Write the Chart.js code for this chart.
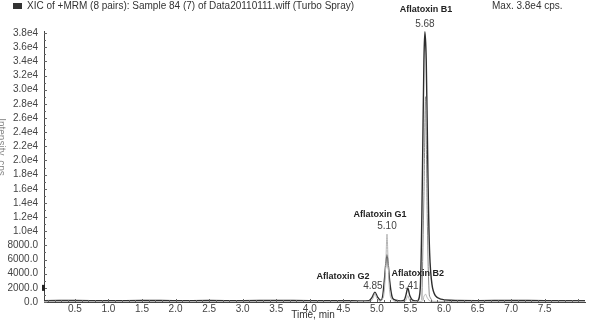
<!DOCTYPE html>
<html>
<head>
<meta charset="UTF-8" />
<title>XIC Aflatoxins</title>
<script src="https://cdn.jsdelivr.net/npm/chart.js"></script>
<style>
  body { margin: 0; background: #fff; }
  #wrap { width: 589px; height: 320px; position: relative; }
</style>
</head>
<body>
<div id="wrap"><canvas id="c"></canvas></div>
<script>
// chromatogram traces, [time (min), intensity (cps)]
const darkTrace = [
  [0.04, 180], [0.5, 220], [1.0, 170], [1.5, 230], [2.0, 190], [2.5, 210], [3.0, 180],
  [3.5, 230], [4.0, 200], [4.5, 190], [4.88, 200], [4.93, 700], [4.97, 1400], [5.01, 700],
  [5.05, 250], [5.08, 500], [5.11, 3000], [5.15, 6700], [5.19, 3000], [5.23, 600], [5.28, 250],
  [5.40, 220], [5.43, 900], [5.46, 2000], [5.49, 900], [5.53, 250], [5.62, 300], [5.65, 3000],
  [5.675, 16000], [5.70, 34000], [5.715, 38200], [5.735, 34000], [5.76, 18000], [5.785, 7000],
  [5.82, 2500], [5.87, 900], [5.95, 400], [6.1, 250], [6.5, 200], [7.0, 220], [7.5, 190], [8.1, 200]
]
const lightTrace = [
  [0.04, 80], [4.9, 80], [4.94, 500], [4.97, 1200], [5.00, 500], [5.05, 100], [5.10, 800],
  [5.13, 5000], [5.15, 9600], [5.17, 5000], [5.20, 800], [5.26, 100], [5.42, 100], [5.46, 900],
  [5.50, 100], [5.68, 150], [5.70, 800], [5.725, 1100], [5.75, 600], [5.80, 100], [8.1, 80]
]
const midTrace = [
  [5.67, 300], [5.70, 15000], [5.725, 29000], [5.75, 12000], [5.78, 1000], [5.82, 200]
]

// peak annotations: name, retention time label, time where drawn, intensity of apex
const peakNames = ['Aflatoxin G2', 'Aflatoxin G1', 'Aflatoxin B2', 'Aflatoxin B1']
const peakRT = ['4.85', '5.10', '5.41', '5.68']
const peakAt = [4.97, 5.15, 5.46, 5.715]
const peakTop = [1400, 9600, 2000, 38200]
const nameShift = [-32, -7, 10, 1]  // px offsets of the bold names from the peak

const xTicks = [0.5, 1.0, 1.5, 2.0, 2.5, 3.0, 3.5, 4.0, 4.5, 5.0, 5.5, 6.0, 6.5, 7.0, 7.5]
const yTicks = [0, 2000, 4000, 6000, 8000, 10000, 12000, 14000, 16000, 18000, 20000,
  22000, 24000, 26000, 28000, 30000, 32000, 34000, 36000, 38000]

const titleText = 'XIC of +MRM (8 pairs): Sample 84 (7) of Data20110111.wiff (Turbo Spray)'
const maxText = 'Max. 3.8e4 cps.'
const xTitle = 'Time, min'
const yTitle = 'Intensity, cps'

const toXY = (arr) => arr.map((p) => ({ x: p[0], y: p[1] }))
const FONT = '"Liberation Sans", Arial, sans-serif'

const decorations = {
  id: 'decorations',
  afterDraw(chart) {
    const ctx = chart.ctx
    const xs = chart.scales.x
    const ys = chart.scales.y
    const area = chart.chartArea
    ctx.save()

    // minor / major ticks on y axis, pointing into the plot
    ctx.strokeStyle = '#666'
    ctx.lineWidth = 1
    for (let v = 0; v <= 38000; v += 1000) {
      const py = Math.round(ys.getPixelForValue(v)) + 0.5
      const len = v % 2000 === 0 ? 3 : 2
      ctx.beginPath()
      ctx.moveTo(area.left, py)
      ctx.lineTo(area.left + len, py)
      ctx.stroke()
    }
    // ticks on x axis, pointing up
    for (let i = 1; i <= 80; i++) {
      const v = i / 10
      const px = Math.round(xs.getPixelForValue(v)) + 0.5
      const len = i % 5 === 0 ? 3 : 2
      ctx.beginPath()
      ctx.moveTo(px, area.bottom)
      ctx.lineTo(px, area.bottom - len)
      ctx.stroke()
    }

    // little marker on the y axis
    ctx.fillStyle = '#222'
    const my = ys.getPixelForValue(2000)
    ctx.fillRect(area.left - 2, my - 3, 3, 6)

    // title
    ctx.fillStyle = '#333'
    ctx.fillRect(13, 3, 9, 6)
    ctx.font = '10px ' + FONT
    ctx.textBaseline = 'middle'
    ctx.textAlign = 'left'
    ctx.fillText(titleText, 27, 6)
    ctx.fillText(maxText, 492, 6)

    // axis titles
    ctx.textAlign = 'center'
    ctx.fillText(xTitle, 313, 315)
    ctx.save()
    ctx.translate(1, 147)
    ctx.rotate(Math.PI / 2)
    ctx.fillStyle = '#888'
    ctx.fillText(yTitle, 0, 0)
    ctx.restore()

    // peak labels
    peakNames.forEach((name, i) => {
      const px = xs.getPixelForValue(peakAt[i])
      const py = ys.getPixelForValue(peakTop[i])
      ctx.fillStyle = '#222'
      ctx.font = 'bold 9px ' + FONT
      let nameY = py - 20
      let rtY = py - 8
      if (i === 3) { nameY = 10; rtY = 24 }
      if (i === 0) { nameY = 277; rtY = 286 }
      if (i === 2) { nameY = 274; rtY = 286 }
      ctx.fillText(name, px + nameShift[i], nameY)
      ctx.font = '10px ' + FONT
      ctx.fillStyle = '#444'
      ctx.fillText(peakRT[i], px - (i === 0 ? 2 : 0) + (i === 2 ? 1 : 0), rtY)
    })
    ctx.restore()
  }
}

new Chart(document.getElementById('c'), {
  type: 'line',
  data: {
    datasets: [
      { data: toXY(lightTrace), borderColor: '#b4b4b4', borderWidth: 1, pointRadius: 0, tension: 0.3 },
      { data: toXY(midTrace), borderColor: '#8a8a8a', borderWidth: 1, pointRadius: 0, tension: 0.3 },
      { data: toXY(darkTrace), borderColor: '#2e2e2e', borderWidth: 1.4, pointRadius: 0, tension: 0.3 }
    ]
  },
  options: {
    responsive: true,
    maintainAspectRatio: false,
    animation: false,
    layout: { padding: { top: 31, right: 4, left: 0, bottom: 0 } },
    plugins: { legend: { display: false }, tooltip: { enabled: false } },
    scales: {
      x: {
        type: 'linear',
        min: 0.04,
        max: 8.1,
        afterFit: (s) => { s.height = 18 },
        afterBuildTicks: (s) => { s.ticks = xTicks.map((v) => ({ value: v })) },
        grid: { display: false, drawTicks: false },
        border: { display: true, color: '#444', width: 1 },
        ticks: {
          maxRotation: 0,
          autoSkip: false,
          padding: 1,
          color: '#444',
          font: { family: FONT, size: 10 },
          callback: (v) => v.toFixed(1)
        }
      },
      y: {
        min: 0,
        max: 38300,
        afterFit: (s) => { s.width = 44 },
        afterBuildTicks: (s) => { s.ticks = yTicks.map((v) => ({ value: v })) },
        grid: { display: false, drawTicks: false },
        border: { display: true, color: '#444', width: 1 },
        ticks: {
          autoSkip: false,
          padding: 6,
          color: '#444',
          font: { family: FONT, size: 10 },
          callback: (v) => (v >= 10000 ? (v / 10000).toFixed(1) + 'e4' : v.toFixed(1))
        }
      }
    }
  },
  plugins: [decorations]
})
</script>
</body>
</html>
